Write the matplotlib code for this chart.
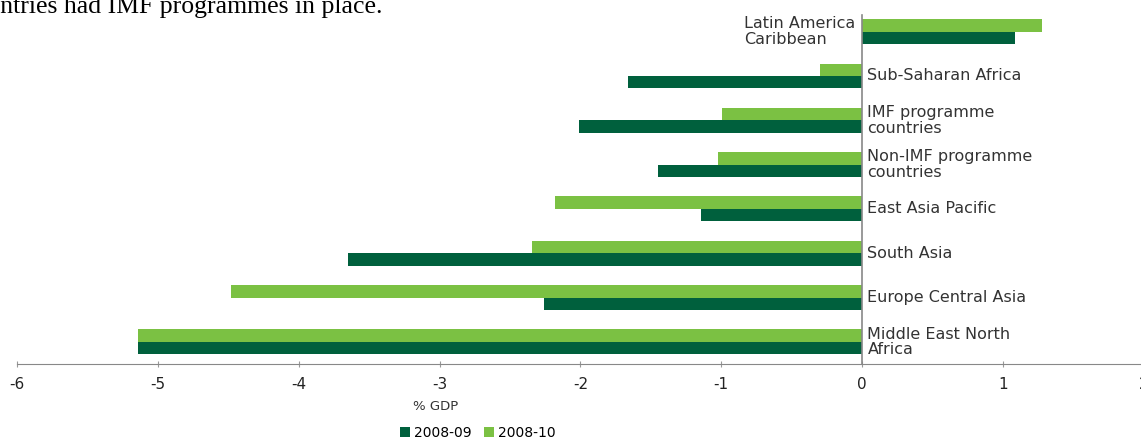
import matplotlib.pyplot as plt
import numpy as np

plt.rcParams['font.family'] = ['DejaVu Sans']

# regions, top to bottom
regions = ['Latin America\nCaribbean', 'Sub-Saharan Africa', 'IMF programme\ncountries',
           'Non-IMF programme\ncountries', 'East Asia Pacific', 'South Asia',
           'Europe Central Asia', 'Middle East North\nAfrica']
fy_0809 = [1.09, -1.66, -2.01, -1.45, -1.14, -3.65, -2.26, -5.14]
fy_0810 = [1.28, -0.30, -0.99, -1.02, -2.18, -2.34, -4.48, -5.14]
xticks = [-6, -5, -4, -3, -2, -1, 0, 1, 2]

dark = '#00603D'
light = '#7BC143'

fig = plt.figure(figsize=(11.41, 4.42), dpi=100)
ax = fig.add_axes([0.0151, 0.1765, 0.987, 0.802])

y = np.arange(len(regions))
h = 0.28
ax.barh(y - h / 2, fy_0810, height=h, color=light, label='2008-10')
ax.barh(y + h / 2, fy_0809, height=h, color=dark, label='2008-09')

ax.set_xlim(-6, 2)
ax.set_ylim(len(regions) - 0.5, -0.5)
ax.set_xticks(xticks)
# plain hyphen for negatives
ax.set_xticklabels([str(t) for t in xticks], fontsize=11, color='#222222')
ax.set_yticks([])
ax.tick_params(axis='x', direction='inout', length=5, width=0.8, color='#999999', pad=7)

for s in ['top', 'right', 'left']:
    ax.spines[s].set_visible(False)
ax.spines['bottom'].set_color('#888888')
ax.axvline(0, ymax=0.985, color='#888888', lw=1.2)

# category names sit next to the zero line, on the side away from the bars
for yi, name, v in zip(y, regions, fy_0810):
    if v > 0:
        ax.annotate(name, (0, yi), xytext=(-5, 0), textcoords='offset points',
                    ha='right', va='center', multialignment='left',
                    fontsize=11.5, color='#333333', linespacing=1.05)
    else:
        ax.annotate(name, (0, yi), xytext=(4, 0), textcoords='offset points',
                    ha='left', va='center', fontsize=11.5, color='#333333', linespacing=1.05)

fig.text(436 / 1141, 1 - 407 / 442, '% GDP', ha='center', va='center', fontsize=9.5, color='#333333')

handles, labels = ax.get_legend_handles_labels()
fig.legend(handles[::-1], labels[::-1], loc='center', bbox_to_anchor=(478 / 1141, 1 - 433 / 442),
           ncol=2, frameon=False, fontsize=10, handlelength=0.7, handleheight=0.7,
           handletextpad=0.3, columnspacing=0.9)

fig.text(-0.032, 1 - 13 / 442, 'countries had IMF programmes in place.', ha='left', va='baseline',
         fontsize=18.5, family='Liberation Serif', color='black')

fig.savefig('out.png', dpi=100, facecolor='white')
